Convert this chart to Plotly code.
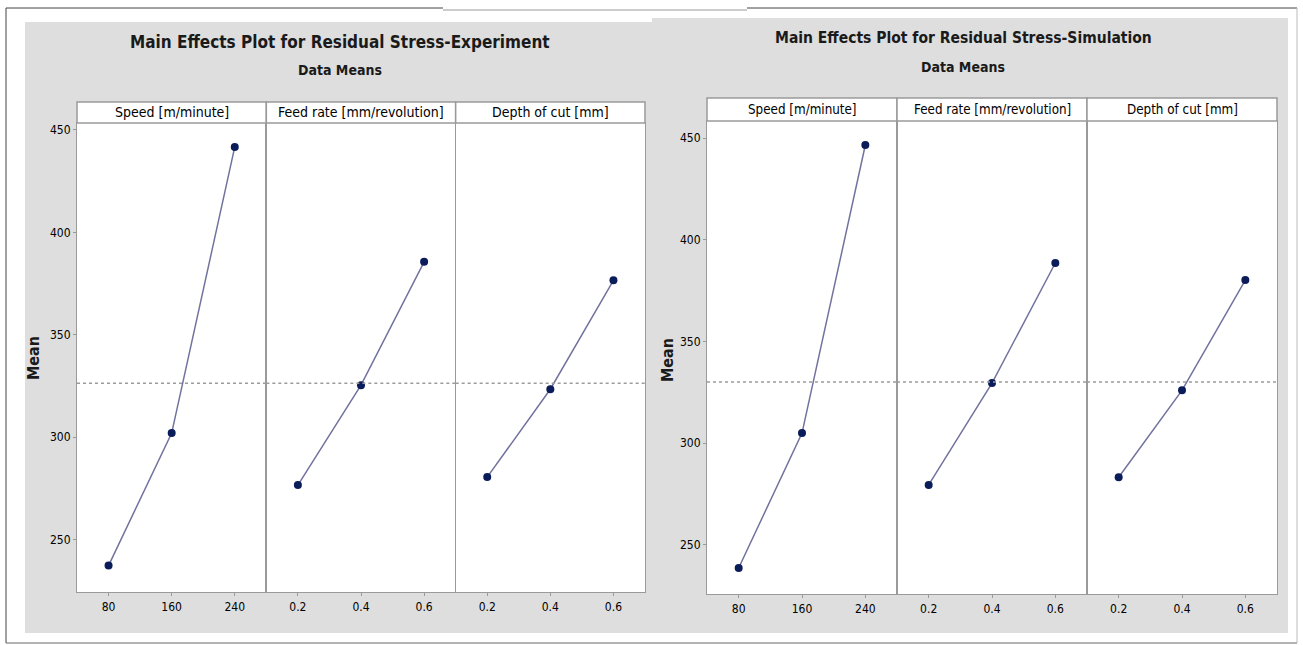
import plotly.graph_objects as go

# ---------------- data ----------------
speed_levels = ["80", "160", "240"]
feed_levels = ["0.2", "0.4", "0.6"]
depth_levels = ["0.2", "0.4", "0.6"]

exp_speed = [237.3, 302.0, 441.7]
exp_feed = [276.6, 325.4, 385.6]
exp_depth = [280.5, 323.4, 376.6]
exp_mean = 326.3

sim_speed = [238.7, 305.0, 446.6]
sim_feed = [279.5, 329.6, 388.6]
sim_depth = [283.3, 326.0, 380.2]
sim_mean = 330.1

factor_names = ["Speed [m/minute]", "Feed rate [mm/revolution]", "Depth of cut [mm]"]
y_ticks = [250, 300, 350, 400, 450]
titles = ["Main Effects Plot for Residual Stress-Experiment",
          "Main Effects Plot for Residual Stress-Simulation"]
subtitle = "Data Means"
y_label = "Mean"

# ---------------- layout helpers ----------------
W, H = 1303, 645
def px(x):
    return x / W
def py(y):
    return 1 - y / H

FONT = "Liberation Sans Narrow, DejaVu Sans Condensed, Arial Narrow, sans-serif"
LINE_C = "#72729e"
MARK_C = "#0b1c5a"
BORDER_C = "#9a9a9a"
GRAY_BG = "#dedede"

charts = [
    dict(levels=[speed_levels, feed_levels, depth_levels],
         vals=[exp_speed, exp_feed, exp_depth], mean=exp_mean,
         left=77, width=189.33, top=123, bottom=592, head_top=102,
         yrange=[224.4, 453.4], title_x=340, title_y=42, sub_y=70,
         title_size=17, sub_size=14, head_size=14,
         ylab_x=33, ylab_y=358, bg=(25, 22, 652, 633)),
    dict(levels=[speed_levels, feed_levels, depth_levels],
         vals=[sim_speed, sim_feed, sim_depth], mean=sim_mean,
         left=707, width=190, top=121, bottom=594, head_top=98,
         yrange=[225.9, 458.4], title_x=963, title_y=38, sub_y=67,
         title_size=15.5, sub_size=14, head_size=13.3,
         ylab_x=667, ylab_y=360, bg=(652, 18, 1288, 633)),
]

fig = go.Figure()
layout = dict(width=W, height=H, margin=dict(l=0, r=0, t=0, b=0),
              paper_bgcolor="white", plot_bgcolor="white", showlegend=False,
              font=dict(family=FONT, color="#111"))
shapes = []
annotations = []

# outer frame
shapes += [
    dict(type="line", xref="paper", yref="paper", x0=px(6), x1=px(6), y0=py(8), y1=py(643),
         line=dict(color="#444", width=1)),
    dict(type="line", xref="paper", yref="paper", x0=px(6), x1=px(443), y0=py(8), y1=py(8),
         line=dict(color="#444", width=1)),
    dict(type="line", xref="paper", yref="paper", x0=px(443), x1=px(747), y0=py(10), y1=py(10),
         line=dict(color="#999", width=1)),
    dict(type="line", xref="paper", yref="paper", x0=px(747), x1=px(1297), y0=py(8), y1=py(8),
         line=dict(color="#444", width=1)),
    dict(type="line", xref="paper", yref="paper", x0=px(6), x1=px(1297), y0=py(643), y1=py(643),
         line=dict(color="#666", width=1)),
    dict(type="line", xref="paper", yref="paper", x0=px(1297), x1=px(1297), y0=py(8), y1=py(643),
         line=dict(color="#bbb", width=1)),
]

idx = 0
for k, c in enumerate(charts):
    x0b, y0b, x1b, y1b = c["bg"]
    shapes.append(dict(type="rect", xref="paper", yref="paper", layer="below",
                       x0=px(x0b), x1=px(x1b), y0=py(y1b), y1=py(y0b),
                       fillcolor=GRAY_BG, line=dict(width=0)))
    shapes.append(dict(type="rect", xref="paper", yref="paper", layer="below",
                       x0=px(c["left"]), x1=px(c["left"] + 3 * c["width"]),
                       y0=py(c["bottom"]), y1=py(c["top"]),
                       fillcolor="white", line=dict(width=0)))
    annotations.append(dict(text="<b>" + titles[k] + "</b>", xref="paper", yref="paper",
                            x=px(c["title_x"]), y=py(c["title_y"]), showarrow=False,
                            xanchor="center", yanchor="middle",
                            font=dict(size=c["title_size"], color="#1a1a1a", family=FONT)))
    annotations.append(dict(text="<b>" + subtitle + "</b>", xref="paper", yref="paper",
                            x=px(c["title_x"]), y=py(c["sub_y"]), showarrow=False,
                            xanchor="center", yanchor="middle",
                            font=dict(size=c["sub_size"], color="#1a1a1a", family=FONT)))
    annotations.append(dict(text="<b>" + y_label + "</b>", xref="paper", yref="paper",
                            x=px(c["ylab_x"]), y=py(c["ylab_y"]), showarrow=False, textangle=-90,
                            xanchor="center", yanchor="middle",
                            font=dict(size=16, color="#1a1a1a", family=FONT)))
    first = idx + 1
    for j in range(3):
        n = idx + 1
        xs = "" if n == 1 else str(n)
        xl = c["left"] + j * c["width"]
        xr = xl + c["width"]
        shapes.append(dict(type="rect", xref="paper", yref="paper",
                           x0=px(xl), x1=px(xr), y0=py(c["top"]), y1=py(c["head_top"]),
                           fillcolor="white", line=dict(color=BORDER_C, width=1.5)))
        annotations.append(dict(text=factor_names[j], xref="paper", yref="paper",
                                x=px((xl + xr) / 2), y=py((c["top"] + c["head_top"]) / 2),
                                xanchor="center", yanchor="middle",
                                showarrow=False, font=dict(size=c["head_size"], color="#000", family=FONT)))
        layout["xaxis" + xs] = dict(domain=[px(xl), px(xr)], anchor="y" + xs,
                                    type="category", categoryorder="array",
                                    categoryarray=c["levels"][j], range=[-0.5, 2.5],
                                    showline=True, mirror=True, linecolor=BORDER_C, linewidth=1.2,
                                    showgrid=False, zeroline=False, ticks="outside", ticklen=3,
                                    tickcolor=BORDER_C, tickfont=dict(size=12, color="#000"),
                                    fixedrange=True)
        ya = dict(domain=[py(c["bottom"]), py(c["top"])], anchor="x" + xs,
                  range=c["yrange"], showline=True, mirror=True, linecolor=BORDER_C,
                  linewidth=1.2, showgrid=False, zeroline=False, fixedrange=True)
        if j == 0:
            ya.update(tickvals=y_ticks, ticks="outside", ticklen=3, tickcolor=BORDER_C,
                      tickfont=dict(size=12, color="#000"))
        else:
            ya.update(showticklabels=False, ticks="",
                      matches="y" + ("" if first == 1 else str(first)))
        layout["yaxis" + xs] = ya
        shapes.append(dict(type="line", xref="x" + xs + " domain", yref="y" + xs,
                           x0=0, x1=1, y0=c["mean"], y1=c["mean"],
                           line=dict(color="#9c9c9c", width=1.5, dash="dot")))
        fig.add_trace(go.Scatter(x=c["levels"][j], y=c["vals"][j], mode="lines+markers",
                                 xaxis="x" + xs, yaxis="y" + xs,
                                 line=dict(color=LINE_C, width=1.5),
                                 marker=dict(color=MARK_C, size=8)))
        idx += 1

layout["shapes"] = shapes
layout["annotations"] = annotations
fig.update_layout(**layout)
fig.write_html("out.html", config={"displayModeBar": False},
               post_script="document.body.style.margin='0px';")
